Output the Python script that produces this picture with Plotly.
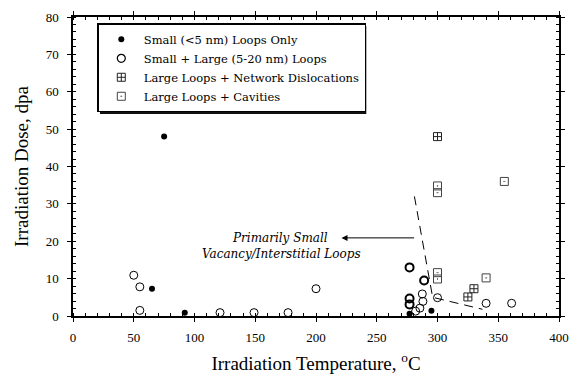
import plotly.graph_objects as go

# ---- data ----
small_x = [75, 65, 92, 277, 295]
small_y = [48, 7.3, 0.9, 0.6, 1.4]

sl_x = [50, 55, 55, 121, 149, 177, 200, 287.5, 288, 285.5, 282, 300, 340, 361, 277, 277, 277, 289]
sl_y = [10.9, 7.8, 1.5, 0.9, 0.9, 0.9, 7.3, 5.9, 3.9, 2.1, 1.3, 4.9, 3.4, 3.4, 13.0, 4.7, 3.1, 9.5]
sl_w = [1] * 14 + [2] * 4

net_x = [300, 325, 330]
net_y = [48, 5.1, 7.3]

cav_x = [300, 300, 300, 300, 340, 355]
cav_y = [34.8, 33.0, 11.6, 9.9, 10.2, 36.0]

boundary_x = [281, 296, 337]
boundary_y = [32, 5, 1.8]

arrow_from = (282, 20.9)
arrow_to = (221, 20.9)
note_lines = ["Primarily Small", "Vacancy/Interstitial Loops"]
note_pos = [(170, 20.8), (171.5, 16.5)]

serif = "Liberation Serif, Times New Roman, serif"
lfont = "DejaVu Serif, serif"

fig = go.Figure()
fig.add_trace(go.Scatter(x=small_x, y=small_y, mode="markers", name="Small (<5 nm) Loops Only",
                         marker=dict(symbol="circle", size=6, color="black")))
fig.add_trace(go.Scatter(x=sl_x, y=sl_y, mode="markers", name="Small + Large (5-20 nm) Loops",
                         marker=dict(symbol="circle-open", size=8, color="black",
                                     line=dict(width=sl_w, color="black"))))
fig.add_trace(go.Scatter(x=net_x, y=net_y, mode="markers", name="Large Loops + Network Dislocations",
                         marker=dict(symbol="square-cross-open", size=8, color="#222",
                                     line=dict(width=1, color="#222"))))
fig.add_trace(go.Scatter(x=cav_x, y=cav_y, mode="markers", name="Large Loops + Cavities",
                         marker=dict(symbol="square-open-dot", size=8, color="#444",
                                     line=dict(width=1, color="#444"))))
fig.add_trace(go.Scatter(x=boundary_x, y=boundary_y, mode="lines", showlegend=False,
                         line=dict(color="black", width=1, dash="9px,6px"), hoverinfo="skip"))

fig.add_annotation(x=arrow_to[0], y=arrow_to[1], ax=arrow_from[0], ay=arrow_from[1],
                   xref="x", yref="y", axref="x", ayref="y", text="", showarrow=True,
                   arrowhead=2, arrowsize=1.2, arrowwidth=1, arrowcolor="black")
for t, (px, py) in zip(note_lines, note_pos):
    fig.add_annotation(x=px, y=py, xref="x", yref="y", text="<i>" + t + "</i>", showarrow=False,
                       font=dict(family=lfont, size=12, color="black"))

common = dict(showline=True, linecolor="black", linewidth=1.5, showgrid=False, zeroline=False,
              ticks="outside", ticklen=4, tickwidth=1.2, tickcolor="black", mirror="allticks",
              automargin=False, tickfont=dict(family=serif, size=13, color="black"))
over = dict(ticks="inside", ticklen=4, tickwidth=1.2, tickcolor="black", showticklabels=False,
            showline=False, showgrid=False, zeroline=False, mirror="allticks", automargin=False)
fig.update_layout(
    width=571, height=374,
    margin=dict(l=73, r=12, t=17, b=58, autoexpand=False),
    paper_bgcolor="white", plot_bgcolor="white",
    xaxis=dict(range=[0, 400], dtick=50, tick0=0, ticklabelstandoff=5,
               title=dict(text="Irradiation Temperature, <sup>o</sup>C", font=dict(family=serif, size=19, color="black"), standoff=14),
               minor=dict(dtick=10, ticks="inside", ticklen=3, tickcolor="black", tickwidth=1),
               **common),
    yaxis=dict(range=[0, 80], dtick=10, tick0=0, ticklabelstandoff=6,
               title=dict(text="Irradiation Dose, dpa", font=dict(family=serif, size=19, color="black"), standoff=12),
               minor=dict(dtick=2, ticks="inside", ticklen=3, tickcolor="black", tickwidth=1),
               **common),
    xaxis2=dict(overlaying="x", matches="x", range=[0, 400], dtick=50, anchor="y", **over),
    yaxis2=dict(overlaying="y", matches="y", range=[0, 80], dtick=10, anchor="x", **over),
    legend=dict(x=0.05, y=0.979, xanchor="left", yanchor="top", bgcolor="white",
                bordercolor="black", borderwidth=1.5, font=dict(family=lfont, size=11.5, color="black"),
                itemwidth=35),
    showlegend=True,
)
fig.add_shape(type="rect", xref="paper", yref="paper", x0=0.0556, x1=0.6035, y0=0.676, y1=0.969,
              fillcolor="#111", line=dict(width=0), layer="above")

fig.write_html("out.html")
